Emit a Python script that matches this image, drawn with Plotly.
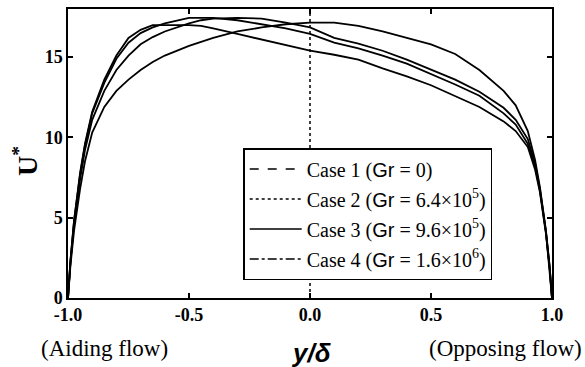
import plotly.graph_objects as go

# y/delta positions
x_pos = [-1.0, -0.99, -0.975, -0.95, -0.93, -0.9, -0.85, -0.8, -0.75, -0.7, -0.65, -0.6,
         -0.5, -0.45, -0.4, -0.3, -0.2, -0.1, 0.0, 0.1, 0.2, 0.3, 0.4, 0.5, 0.6, 0.7,
         0.8, 0.85, 0.9, 0.93, 0.95, 0.975, 0.99, 1.0]

# U* profiles
case1 = [0, 2.0, 4.2, 6.8, 8.5, 10.3, 11.9, 12.9, 13.6, 14.2, 14.7, 15.1,
         15.7, 15.95, 16.2, 16.6, 16.85, 17.05, 17.15, 17.15, 16.95, 16.6, 16.2, 15.8, 15.2, 14.2,
         12.9, 12.0, 10.4, 8.6, 6.9, 4.2, 2.0, 0]
case2 = [0, 2.2, 4.6, 7.4, 9.2, 11.1, 12.9, 14.2, 15.1, 15.8, 16.25, 16.6,
         17.1, 17.3, 17.4, 17.45, 17.4, 17.15, 16.85, 16.2, 15.85, 15.4, 14.85, 14.25, 13.6, 12.85,
         11.85, 11.1, 9.9, 8.4, 6.8, 4.1, 2.0, 0]
case3 = [0, 2.3, 4.8, 7.7, 9.5, 11.5, 13.4, 14.9, 15.9, 16.5, 16.85, 17.1,
         17.45, 17.45, 17.45, 17.3, 17.05, 16.8, 16.45, 15.9, 15.55, 15.1, 14.6, 13.95, 13.3, 12.6,
         11.5, 10.8, 9.6, 8.2, 6.7, 4.1, 1.9, 0]
case4 = [0, 2.3, 4.8, 7.8, 9.6, 11.6, 13.6, 15.1, 16.2, 16.7, 17.0, 17.0,
         17.0, 16.95, 16.8, 16.45, 16.1, 15.75, 15.4, 15.15, 14.85, 14.3, 13.8, 13.25, 12.6, 11.9,
         11.0, 10.4, 9.4, 8.0, 6.6, 4.0, 1.9, 0]

centre_x = [0.0, 0.0]
centre_y = [0.0, 18.0]

gr_span = '<span style="font-family:Liberation Sans">Gr</span>'
legend_names = [
    f"Case 1 ({gr_span} = 0)",
    f"Case 2 ({gr_span} = 6.4×10<sup>5</sup>)",
    f"Case 3 ({gr_span} = 9.6×10<sup>5</sup>)",
    f"Case 4 ({gr_span} = 1.6×10<sup>6</sup>)",
]
legend_dash = ["dash", "dot", "solid", "dashdot"]

x_ticks = [-1.0, -0.5, 0.0, 0.5, 1.0]
x_ticktext = ["-1.0", "-0.5", "0.0", "0.5", "1.0"]
y_ticks = [0, 5, 10, 15]

fig = go.Figure()

# centre reference line
fig.add_trace(go.Scatter(x=centre_x, y=centre_y, mode="lines",
                         line=dict(color="black", width=1.5, dash="dot"),
                         showlegend=False, hoverinfo="skip"))

for ys in [case1, case2, case3, case4]:
    fig.add_trace(go.Scatter(x=x_pos, y=ys, mode="lines",
                             line=dict(color="black", width=1.8),
                             showlegend=False))

for i, (nm, ds) in enumerate(zip(legend_names, legend_dash)):
    fig.add_trace(go.Scatter(x=[None], y=[None], mode="lines", name=nm,
                             legendgroup=f"g{i}",
                             line=dict(color="black", width=1.5, dash=ds)))

serif = "Liberation Serif"

fig.update_layout(
    width=585, height=367,
    margin=dict(l=68, r=33, t=7, b=69),
    paper_bgcolor="white", plot_bgcolor="white",
    showlegend=True,
    legend=dict(x=0.362, y=0.062, xanchor="left", yanchor="bottom",
                bgcolor="white", bordercolor="black", borderwidth=1.5,
                font=dict(family=serif, size=20, color="black"),
                tracegroupgap=1, itemwidth=52),
    xaxis=dict(range=[-1, 1], tickvals=x_ticks, ticktext=x_ticktext,
               ticks="inside", ticklen=5, tickwidth=1.5, tickcolor="black",
               showline=True, linecolor="black", linewidth=1.5, mirror="allticks",
               showgrid=False, zeroline=False,
               tickfont=dict(family=serif, size=18, color="black", weight="bold")),
    yaxis=dict(range=[0, 18], tickvals=y_ticks,
               ticks="inside", ticklen=5, tickwidth=1.5, tickcolor="black",
               showline=True, linecolor="black", linewidth=1.5, mirror="allticks",
               showgrid=False, zeroline=False,
               tickfont=dict(family=serif, size=18, color="black", weight="bold")),
    annotations=[
        dict(text="<b>U<sup>*</sup></b>", xref="paper", yref="paper", x=-0.089, y=0.474,
             xanchor="center", yanchor="middle",
             showarrow=False, textangle=-90, font=dict(family=serif, size=28, color="black")),
        dict(text="<b><i>y/δ</i></b>", xref="paper", yref="paper", x=0.502, y=-0.192,
             xanchor="center", yanchor="middle",
             showarrow=False, font=dict(family="Liberation Sans", size=26, color="black")),
        dict(text="(Aiding flow)", xref="paper", yref="paper", x=0.0764, y=-0.175,
             xanchor="center", yanchor="middle",
             showarrow=False, font=dict(family=serif, size=23, color="black")),
        dict(text="(Opposing flow)", xref="paper", yref="paper", x=0.903, y=-0.175,
             xanchor="center", yanchor="middle",
             showarrow=False, font=dict(family=serif, size=23, color="black")),
    ],
)

fig.write_html("out.html")
